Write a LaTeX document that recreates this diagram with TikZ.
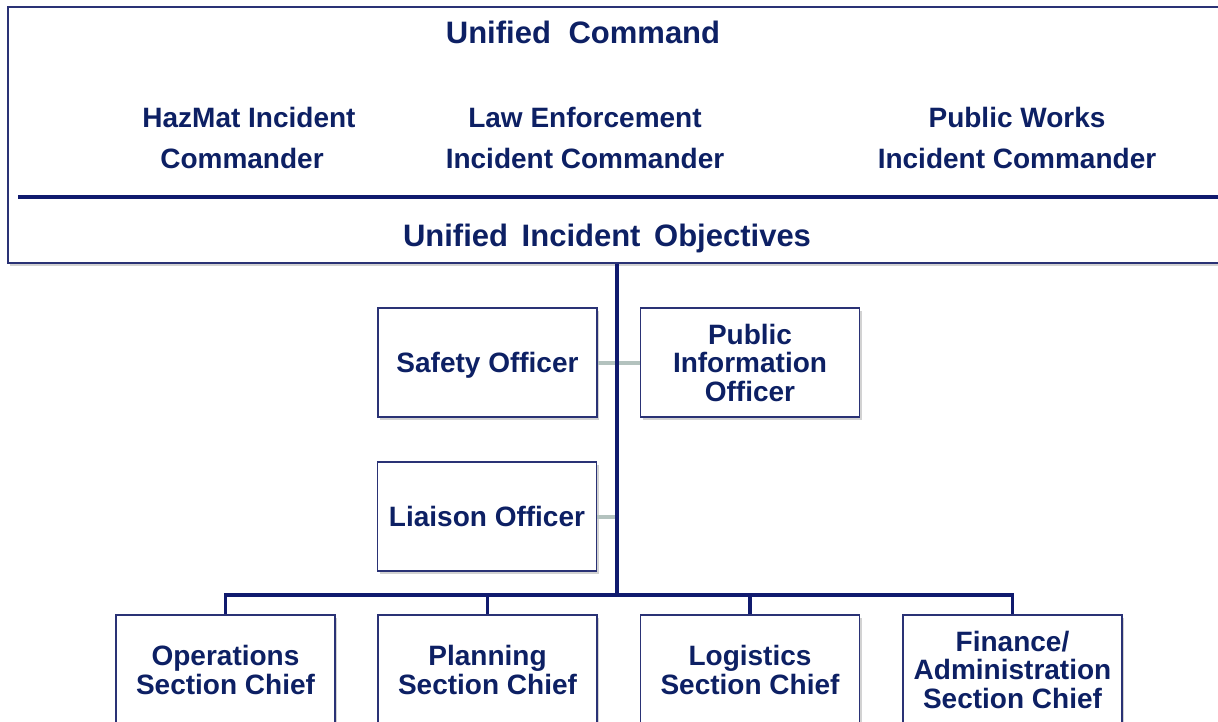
\documentclass[tikz,border=0pt]{standalone}
\usepackage{fontspec}
\setmainfont{Liberation Sans}
\usetikzlibrary{shadows}
\definecolor{navytxt}{HTML}{0D2064}
\definecolor{navyline}{HTML}{101A6E}
\definecolor{boxline}{HTML}{2A3275}
\definecolor{grayline}{HTML}{B3C2BE}
\tikzset{
  orgbox/.style={draw=boxline, line width=1.6pt, fill=white, rectangle,
    minimum width=219pt, minimum height=109pt, inner sep=2pt, align=center,
    text=navytxt, font=\fontsize{28}{29}\selectfont\bfseries,
    drop shadow={shadow xshift=2pt, shadow yshift=-2.5pt, opacity=0.35, fill=gray}},
  topbox/.style={draw=boxline, line width=1.8pt, fill=white, rectangle,
    minimum width=1222pt, minimum height=256pt, inner sep=0pt,
    drop shadow={shadow xshift=2pt, shadow yshift=-2.5pt, opacity=0.35, fill=gray}},
  cmdtext/.style={text=navytxt, align=center, font=\fontsize{28}{41}\selectfont\bfseries, inner sep=0pt},
  titletext/.style={text=navytxt, align=center, font=\fontsize{31}{33}\selectfont\bfseries, inner sep=0pt},
  trunkline/.style={draw=navyline, line width=3.6pt},
  sepline/.style={draw=navyline, line width=4pt},
  staffline/.style={draw=grayline, line width=4pt},
}
\begin{document}
\begin{tikzpicture}[x=1pt,y=-1pt]
\path[use as bounding box, clip] (0,0) rectangle (1218,721);
\fill[white] (0,0) rectangle (1218,721);
% top unified command box
\node[topbox] (uc) at (619,135) {};
\node[titletext] (title) at (583,32) {Unified\ \hspace{9pt}Command};
\node[cmdtext, anchor=north] (hazmat) at (249,107) {HazMat Incident};
\node[cmdtext, anchor=north] (hazmat2) at (242,148) {Commander};
\node[cmdtext] (law) at (585,138) {Law Enforcement\\Incident Commander};
\node[cmdtext] (pw) at (1017,138) {Public Works\\Incident Commander};
\coordinate (sepL) at (18,197);
\coordinate (sepR) at (1230,197);
\draw[sepline] (sepL) -- (sepR);
\node[titletext] (obj) at (607,238) {Unified\ \hspace{5pt}Incident\ \hspace{5pt}Objectives};
% staff boxes
\node[orgbox, text depth=0pt] (safety) at (487.5,362.5) {Safety Officer};
\node[orgbox] (pio) at (750,362.5) {Public\\[-0.5pt]Information\\[-0.5pt]Officer};
\node[orgbox] (liaison) at (487,516.5) {Liaison Officer};
% section boxes
\node[orgbox] (ops) at (225.5,669.5) {Operations\\Section Chief};
\node[orgbox] (plan) at (487.5,669.5) {Planning\\Section Chief};
\node[orgbox] (log) at (750,669.5) {Logistics\\Section Chief};
\node[orgbox] (fin) at (1012.5,669.5) {Finance/\\[-0.5pt]Administration\\[-0.5pt]Section Chief};
% connectors
\coordinate (bus) at (617,595);
\draw[staffline] (safety.east) -- (pio.west);
\draw[staffline] (liaison.east) -- (liaison.east -| bus);
\draw[trunkline] (uc.south -| bus) -- (bus);
\draw[trunkline, line cap=rect] (bus -| ops.north) -- (bus -| fin.north);
\draw[trunkline] (bus -| ops.north) -- (ops.north);
\draw[trunkline] (bus -| plan.north) -- (plan.north);
\draw[trunkline] (bus -| log.north) -- (log.north);
\draw[trunkline] (bus -| fin.north) -- (fin.north);
\end{tikzpicture}
\end{document}
